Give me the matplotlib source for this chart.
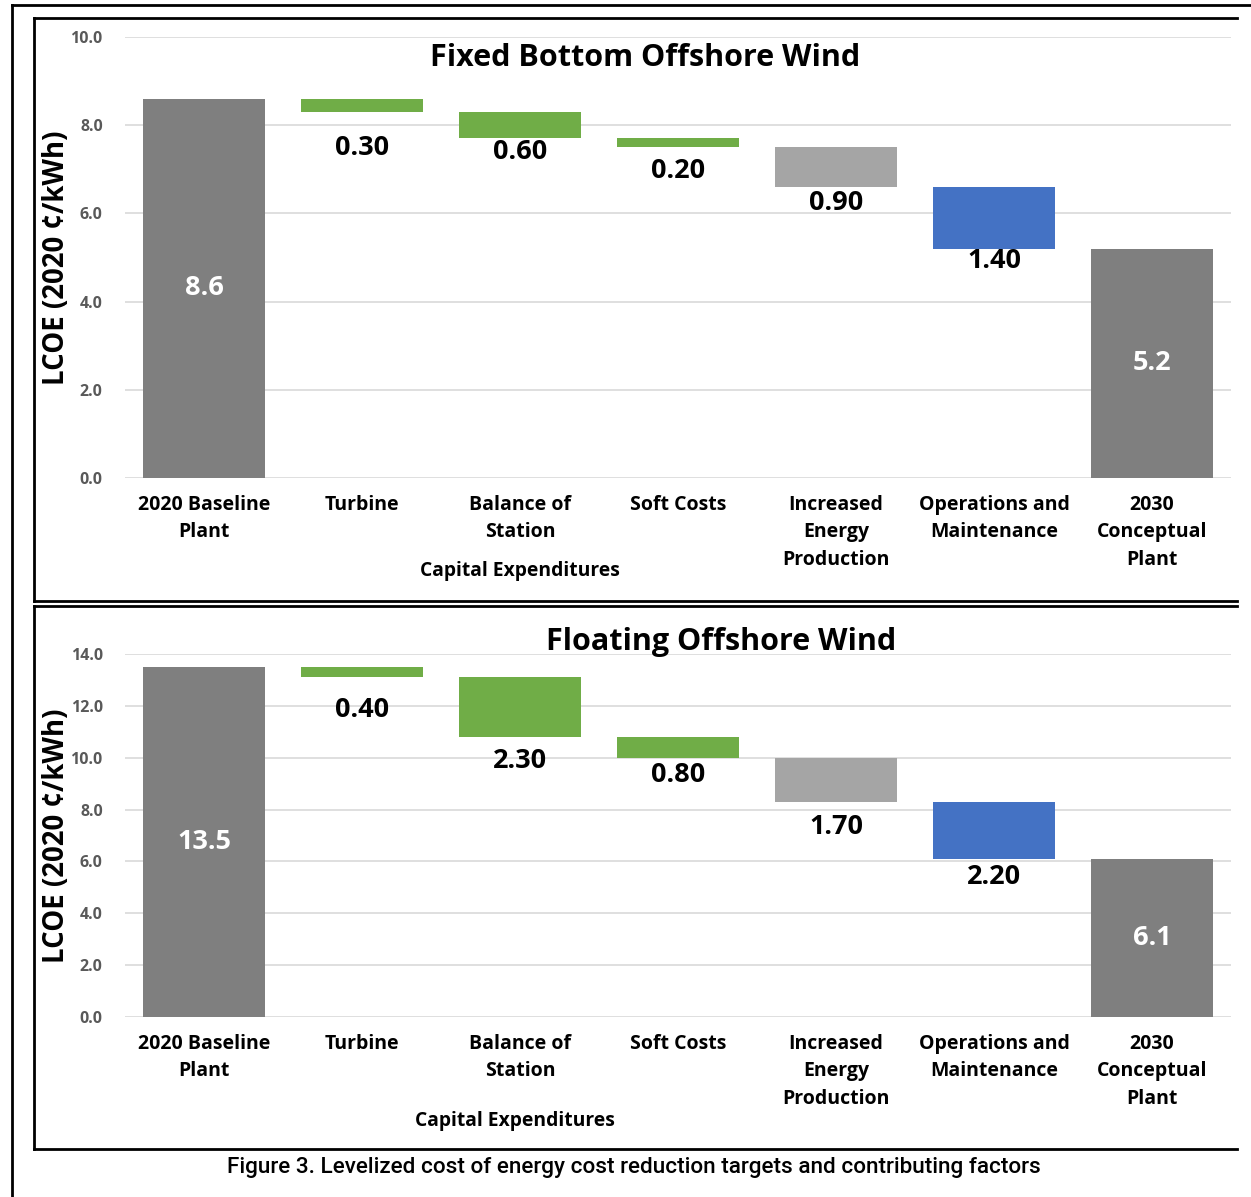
import matplotlib
matplotlib.use("Agg")
import matplotlib.pyplot as plt
from matplotlib.lines import Line2D

# ---- data -------------------------------------------------------------
categories = ["2020 Baseline\nPlant", "Turbine", "Balance of\nStation", "Soft Costs",
              "Increased\nEnergy\nProduction", "Operations and\nMaintenance",
              "2030\nConceptual\nPlant"]

fixed_baseline = 8.6
fixed_reductions = [0.30, 0.60, 0.20, 0.90, 1.40]
fixed_final = 5.2

floating_baseline = 13.5
floating_reductions = [0.40, 2.30, 0.80, 1.70, 2.20]
floating_final = 6.1

fixed_yticks = [0.0, 2.0, 4.0, 6.0, 8.0, 10.0]
floating_yticks = [0.0, 2.0, 4.0, 6.0, 8.0, 10.0, 12.0, 14.0]

# ---- style ------------------------------------------------------------
GREY = "#7f7f7f"
GREEN = "#70ad47"
LIGHT = "#a5a5a5"
BLUE = "#4472c4"
reduction_colors = [GREEN, GREEN, GREEN, LIGHT, BLUE]
FONT = "Open Sans"

# distance (px) below each reduction bar where its value is written
fixed_label_gap = [35, 13, 23, 15, 11]
floating_label_gap = [32, 23, 16, 24, 17]

W, H = 1251, 1197
fig = plt.figure(figsize=(W / 100, H / 100), dpi=100)


def fx(px):
    return px / W


def fy(py):
    return 1 - py / H


def waterfall(ax, baseline, reductions, final, yticks, gaps):
    n = len(categories)
    xs = list(range(n))
    width = 0.775
    # baseline and final totals
    ax.bar([xs[0], xs[-1]], [baseline, final], width=width, color=GREY, zorder=3)
    # reductions stepping down from the baseline
    level = baseline
    for i, (d, c, g) in enumerate(zip(reductions, reduction_colors, gaps), start=1):
        ax.bar(xs[i], d, bottom=level - d, width=width, color=c, zorder=3)
        ax.annotate(f"{d:.2f}", xy=(xs[i], level - d), xytext=(0, -g - 1),
                    textcoords="offset pixels", ha="center", va="center",
                    fontsize=19.5, fontweight="bold", family=FONT, color="black")
        level -= d
    for x, v in ((xs[0], baseline), (xs[-1], final)):
        ax.text(x, v / 2, f"{v:.1f}", ha="center", va="center", color="white",
                fontsize=19.5, fontweight="bold", family=FONT, zorder=4)

    ax.set_xlim(-0.5, n - 0.5)
    ax.set_ylim(yticks[0], yticks[-1])
    ax.set_yticks(yticks)
    ax.set_yticklabels([f"{t:.1f}" for t in yticks], fontsize=11.5,
                       fontweight="bold", color="#595959", family=FONT)
    ax.set_xticks(xs)
    ax.set_xticklabels(categories, fontsize=14, fontweight="bold", family=FONT,
                       linespacing=1.52, va="top")
    ax.tick_params(axis="both", length=0)
    ax.tick_params(axis="y", pad=16)
    ax.tick_params(axis="x", pad=12)
    ax.grid(axis="y", color="#d9d9d9", linewidth=1.2, zorder=0)
    for s in ax.spines.values():
        s.set_visible(False)


# top: fixed bottom
ax1 = fig.add_axes([fx(125), fy(478), fx(1231) - fx(125), fy(37) - fy(478)])
waterfall(ax1, fixed_baseline, fixed_reductions, fixed_final, fixed_yticks, fixed_label_gap)

# bottom: floating
ax2 = fig.add_axes([fx(125), fy(1017), fx(1231) - fx(125), fy(654) - fy(1017)])
waterfall(ax2, floating_baseline, floating_reductions, floating_final, floating_yticks,
          floating_label_gap)

# y-axis titles
for yc in (258, 836):
    fig.text(fx(56), fy(yc), "LCOE (2020 ¢/kWh)", rotation=90, ha="center", va="center",
             fontsize=19.8, fontweight="bold", family=FONT)

# titles and group labels
fig.text(fx(645), fy(58), "Fixed Bottom Offshore Wind", ha="center", va="center",
         fontsize=22, fontweight="bold", family=FONT)
fig.text(fx(721), fy(642), "Floating Offshore Wind", ha="center", va="center",
         fontsize=22, fontweight="bold", family=FONT)
fig.text(fx(520), fy(571), "Capital Expenditures", ha="center", va="center",
         fontsize=13.9, fontweight="bold", family=FONT)
fig.text(fx(515), fy(1121), "Capital Expenditures", ha="center", va="center",
         fontsize=13.9, fontweight="bold", family=FONT)

# caption
fig.text(fx(634), fy(1168), "Figure 3. Levelized cost of energy cost reduction targets and contributing factors",
         ha="center", va="center", fontsize=16.2, family="Roboto", fontweight="medium",
         color="black")


def hline(y, x0, x1, lw=2.0):
    fig.add_artist(Line2D([fx(x0), fx(x1)], [fy(y), fy(y)], color="black", lw=lw))


def vline(x, y0, y1, lw=2.0):
    fig.add_artist(Line2D([fx(x), fx(x)], [fy(y0), fy(y1)], color="black", lw=lw))


# outer frame
hline(5, 12, W)
vline(12, 5, H)
# panel boxes
for top, bottom in ((18, 601), (606, 1149)):
    hline(top, 34, 1237)
    hline(bottom, 34, 1237)
    vline(34, top, bottom)

fig.savefig("out.png", dpi=100)
